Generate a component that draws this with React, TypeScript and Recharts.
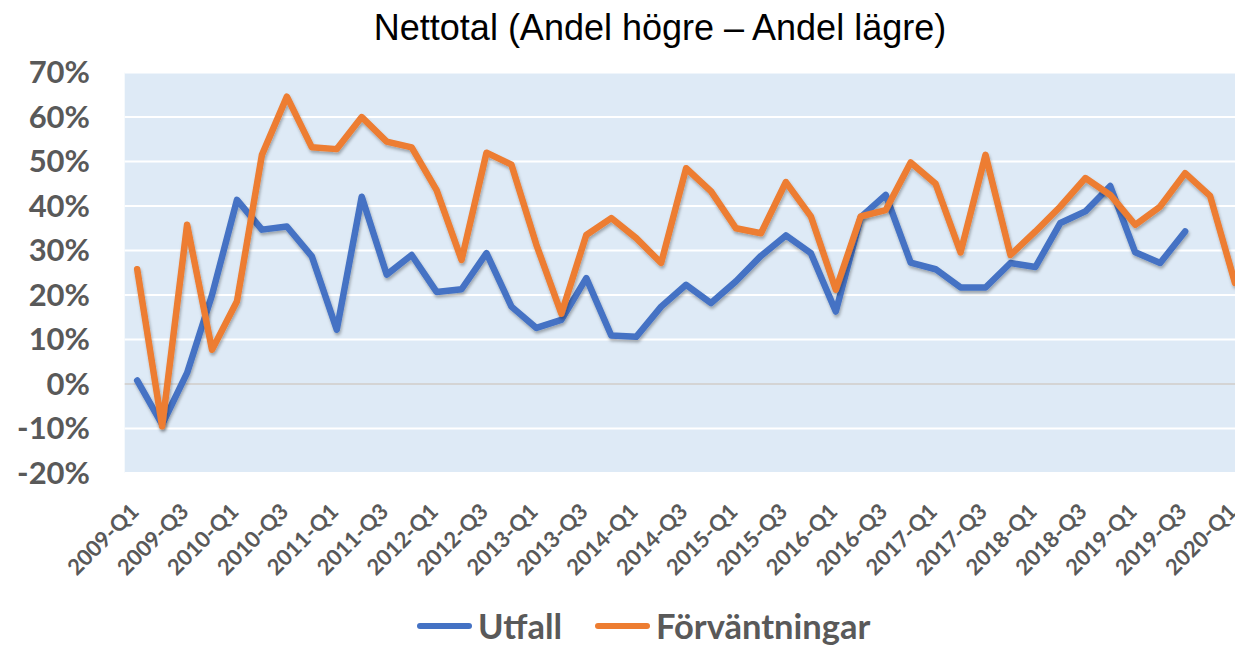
import { LineChart, Line, XAxis, YAxis, CartesianGrid, ReferenceLine } from 'recharts'

const quarters = [
  '2009-Q1', '2009-Q2', '2009-Q3', '2009-Q4',
  '2010-Q1', '2010-Q2', '2010-Q3', '2010-Q4',
  '2011-Q1', '2011-Q2', '2011-Q3', '2011-Q4',
  '2012-Q1', '2012-Q2', '2012-Q3', '2012-Q4',
  '2013-Q1', '2013-Q2', '2013-Q3', '2013-Q4',
  '2014-Q1', '2014-Q2', '2014-Q3', '2014-Q4',
  '2015-Q1', '2015-Q2', '2015-Q3', '2015-Q4',
  '2016-Q1', '2016-Q2', '2016-Q3', '2016-Q4',
  '2017-Q1', '2017-Q2', '2017-Q3', '2017-Q4',
  '2018-Q1', '2018-Q2', '2018-Q3', '2018-Q4',
  '2019-Q1', '2019-Q2', '2019-Q3', '2019-Q4',
  '2020-Q1',
]

// percent values
const utfall = [
  0.8, -9.1, 2.5, 20, 41.4, 34.7, 35.4, 28.7, 12.2, 42.1, 24.6, 29.0, 20.7, 21.3, 29.4,
  17.4, 12.6, 14.4, 23.8, 10.9, 10.6, 17.4, 22.3, 18.2, 23.1, 28.8, 33.4, 29.4, 16.3,
  37.5, 42.5, 27.3, 25.8, 21.7, 21.7, 27.2, 26.3, 36.2, 38.8, 44.5, 29.6, 27.2, 34.3,
  null, null,
]

const forvantningar = [
  25.8, -9.5, 35.8, 7.7, 18.6, 51.5, 64.6, 53.2, 52.8, 60.0, 54.5, 53.2, 43.6, 27.9, 52.0,
  49.3, 31.3, 15.8, 33.5, 37.3, 32.8, 27.2, 48.5, 43.3, 35.0, 33.9, 45.4, 37.7, 21.2,
  37.7, 39.1, 49.8, 45.0, 29.6, 51.5, 29.0, 34.3, 39.9, 46.3, 42.5, 35.8, 39.9, 47.4, 42.3, 22.7,
]

const yTicks = [-20, -10, 0, 10, 20, 30, 40, 50, 60, 70]

const seriesNames = ['Utfall', 'Förväntningar']
const COLORS = ['#4472C4', '#ED7D31']

const data = quarters.map((q, i) => ({ q, utfall: utfall[i], forv: forvantningar[i] }))

const labelFont = 'Lato, "Open Sans", sans-serif'
const grey = '#595959'

const XTick = (props: any) => {
  const { x, payload } = props
  const tx = x + 3
  const ty = 513
  return (
    <text x={tx} y={ty} transform={`rotate(-45, ${tx}, ${ty})`} textAnchor="end"
      fontFamily={labelFont} fontWeight={700} fontSize={22} fill={grey}>
      {payload.value}
    </text>
  )
}

const YTick = (props: any) => {
  const { y, payload } = props
  return (
    <text x={90} y={y + 10.5} textAnchor="end" fontFamily={labelFont} fontWeight={700} fontSize={31} fill={grey}>
      {payload.value}%
    </text>
  )
}

export default function App() {
  return (
    <div style={{ position: 'absolute', left: 0, top: 0, width: 1235, height: 646, overflow: 'hidden', background: '#fff' }}>
      <div style={{
        position: 'absolute', left: 0, width: 1320, top: 7, textAlign: 'center',
        fontFamily: '"Liberation Sans", Arial, sans-serif', fontSize: 36, color: '#000',
      }}>
        Nettotal (Andel högre – Andel lägre)
      </div>

      <div style={{ position: 'absolute', left: 0, top: 0 }}>
        <LineChart width={1260} height={646} data={data}
          margin={{ top: 72.6, right: 12.5, bottom: 73, left: 0 }}>
          <defs>
            <filter id="lineShadow" x="-5%" y="-10%" width="110%" height="130%">
              <feDropShadow dx="1" dy="2.5" stdDeviation="1.8" floodColor="#000" floodOpacity="0.3" />
            </filter>
          </defs>
          <CartesianGrid vertical={false} fill="#DEEAF6" stroke="#ffffff" strokeWidth={2} />
          <XAxis dataKey="q" interval={1} axisLine={false} tickLine={false} height={100}
            padding={{ left: 12.48, right: 12.48 }} tick={<XTick />} />
          <YAxis domain={[-20, 70]} ticks={yTicks} width={124.7} axisLine={false} tickLine={false}
            tick={<YTick />} />
          <ReferenceLine y={0} stroke="#D4D4D4" strokeWidth={2} />
          <Line dataKey="utfall" name={seriesNames[0]} stroke={COLORS[0]} strokeWidth={6.5} dot={false}
            strokeLinejoin="round" strokeLinecap="round" filter="url(#lineShadow)" isAnimationActive={false} />
          <Line dataKey="forv" name={seriesNames[1]} stroke={COLORS[1]} strokeWidth={6.5} dot={false}
            strokeLinejoin="round" strokeLinecap="round" filter="url(#lineShadow)" isAnimationActive={false} />
        </LineChart>
      </div>

      {/* legend */}
      {seriesNames.map((n, i) => (
        <div key={n} style={{
          position: 'absolute', top: 605, left: i === 0 ? 417 : 595, display: 'flex', alignItems: 'center',
          fontFamily: labelFont, fontWeight: 700, fontSize: 34.5, color: grey, whiteSpace: 'nowrap',
        }}>
          <span style={{ width: 55, height: 6, borderRadius: 3, background: COLORS[i], marginRight: 6 }} />
          <span>{n}</span>
        </div>
      ))}
    </div>
  )
}
